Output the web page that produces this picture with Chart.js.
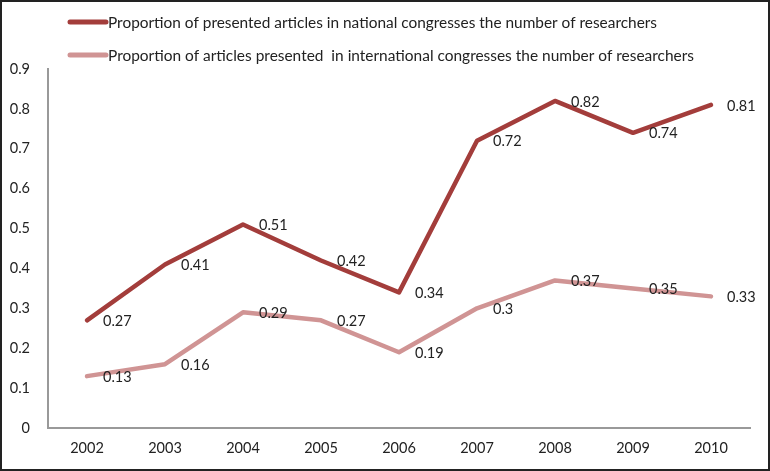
<!DOCTYPE html>
<html>
<head>
<meta charset="utf-8">
<script src="https://cdn.jsdelivr.net/npm/chart.js@4"></script>
<style>
  html, body { margin: 0; padding: 0; background: #fff; }
  #wrap { width: 770px; height: 471px; position: relative; }
</style>
</head>
<body>
<div id="wrap"><canvas id="chart" width="770" height="471"></canvas></div>
<script>
const years = ['2002', '2003', '2004', '2005', '2006', '2007', '2008', '2009', '2010'];
const nationalValues = [0.27, 0.41, 0.51, 0.42, 0.34, 0.72, 0.82, 0.74, 0.81];
const internationalValues = [0.13, 0.16, 0.29, 0.27, 0.19, 0.30, 0.37, 0.35, 0.33];
const seriesNames = [
  'Proportion of presented articles in national congresses the number of researchers',
  'Proportion of articles presented  in international congresses the number of researchers'
];

const FONT = 'Lato, "Liberation Sans", sans-serif';
const TEXT = '#222';

// labels on the right of every point + border + legend
const extras = {
  id: 'extras',
  afterDatasetsDraw(chart) {
    const c = chart.ctx;
    c.save();
    c.font = '14.5px ' + FONT;
    c.fillStyle = TEXT;
    c.textAlign = 'left';
    c.textBaseline = 'middle';
    chart.data.datasets.forEach((ds, i) => {
      chart.getDatasetMeta(i).data.forEach((pt, j) => {
        c.fillText(String(ds.data[j]), pt.x + 16, pt.y + 1);
      });
    });
    c.restore();
  },
  afterDraw(chart) {
    const c = chart.ctx;
    c.save();
    // legend
    const rows = [22, 55];
    const widths = [549, 586];
    chart.data.datasets.forEach((ds, i) => {
      c.strokeStyle = ds.borderColor;
      c.lineWidth = 5;
      c.lineCap = 'round';
      c.beginPath();
      c.moveTo(70, rows[i]);
      c.lineTo(106, rows[i]);
      c.stroke();
      c.font = '14.5px ' + FONT;
      c.fillStyle = TEXT;
      c.textBaseline = 'middle';
      const w = c.measureText(ds.label).width;
      c.save();
      c.translate(108, rows[i] + 1);
      c.scale(widths[i] / w, 1);
      c.fillText(ds.label, 0, 0);
      c.restore();
    });
    // frame
    c.strokeStyle = '#222';
    c.lineWidth = 2;
    c.strokeRect(1, 1, 768, 469);
    c.restore();
  }
};

new Chart(document.getElementById('chart'), {
  type: 'line',
  data: {
    labels: years,
    datasets: [
      {
        label: seriesNames[0],
        data: nationalValues,
        borderColor: '#A33D3B',
        borderWidth: 4.5,
        pointRadius: 0,
        tension: 0,
        borderCapStyle: 'round',
        borderJoinStyle: 'round'
      },
      {
        label: seriesNames[1],
        data: internationalValues,
        borderColor: '#D09494',
        borderWidth: 4.5,
        pointRadius: 0,
        tension: 0,
        borderCapStyle: 'round',
        borderJoinStyle: 'round'
      }
    ]
  },
  options: {
    responsive: false,
    animation: false,
    layout: { padding: { top: 69, left: 8, right: 20, bottom: 0 } },
    plugins: {
      legend: { display: false },
      tooltip: { enabled: false }
    },
    scales: {
      x: {
        offset: true,
        grid: { display: false, drawTicks: false },
        border: { display: true, color: '#999', width: 2 },
        ticks: { color: TEXT, font: { family: FONT, size: 14.5 }, padding: 12, maxRotation: 0 },
        afterFit: (s) => { s.height = 43; }
      },
      y: {
        min: 0,
        max: 0.9,
        grid: { display: false, drawTicks: false },
        border: { display: true, color: '#999', width: 2 },
        ticks: {
          stepSize: 0.1,
          color: TEXT,
          font: { family: FONT, size: 14.5 },
          padding: 18,
          callback: (v) => String(+v.toFixed(1))
        },
        afterFit: (s) => { s.width = 40; }
      }
    }
  },
  plugins: [extras]
});
</script>
</body>
</html>
